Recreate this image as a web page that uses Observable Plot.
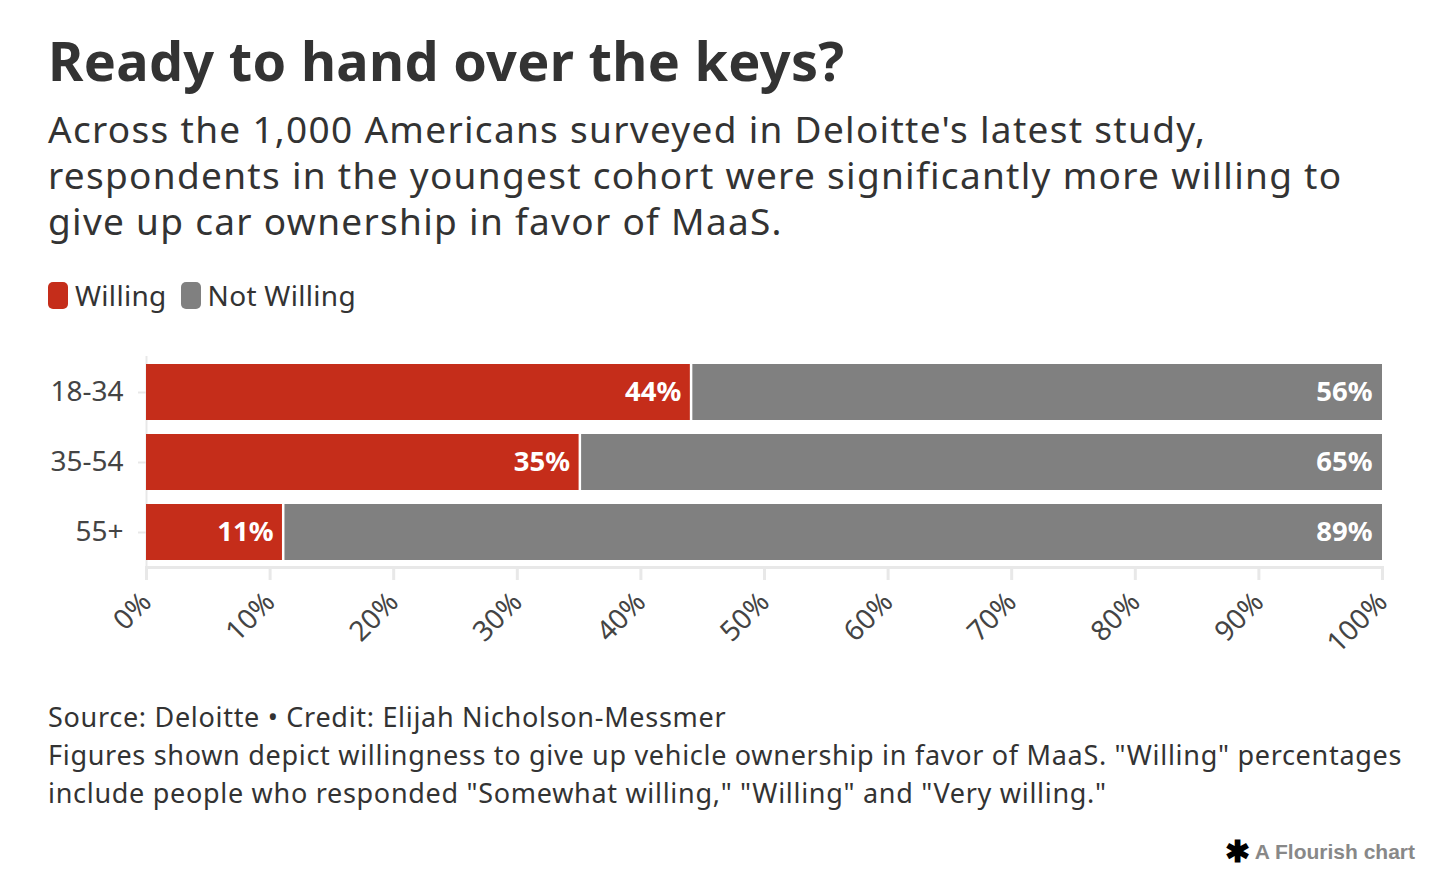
<!DOCTYPE html>
<html><head><meta charset="utf-8">
<script src="https://cdn.jsdelivr.net/npm/d3@7"></script>
<script src="https://cdn.jsdelivr.net/npm/@observablehq/plot@0.6"></script>
<style>
html,body{margin:0;padding:0;background:#fff}
body{width:1446px;height:888px;position:relative;overflow:hidden;font-family:"Noto Sans",sans-serif;color:#333}
#title{position:absolute;left:48px;top:27px;font-size:54px;letter-spacing:0.3px;font-weight:700;line-height:66px;white-space:nowrap;color:#333}
#subtitle{position:absolute;left:48px;top:106px;font-size:37px;letter-spacing:1.3px;line-height:46px;white-space:nowrap;color:#333}
#legend{position:absolute;left:48px;top:276px;display:flex;align-items:center;font-size:28px;letter-spacing:0.3px;color:#333}
.item{display:flex;align-items:center;margin-right:14px}
.sw{width:20px;height:27px;border-radius:5px;margin-right:7px}
#chart{position:absolute;left:0;top:340px}
#footer{position:absolute;left:48px;top:698px;font-size:27px;letter-spacing:0.7px;line-height:38px;white-space:nowrap;color:#333}
#logo{position:absolute;right:31px;top:840px;font-family:"Liberation Sans",Arial,sans-serif;font-weight:700;font-size:21px;color:#888;display:flex;align-items:center}
#logo span.star{color:#000;font-size:30px;margin-right:5px;line-height:20px}
</style></head><body>
<div id="title">Ready to hand over the keys?</div>
<div id="subtitle">Across the 1,000 Americans surveyed in Deloitte's latest study,<br>respondents in the youngest cohort were significantly more willing to<br>give up car ownership in favor of MaaS.</div>
<div id="legend"></div>
<div id="chart"></div>
<div id="footer">Source: Deloitte • Credit: Elijah Nicholson-Messmer<br>Figures shown depict willingness to give up vehicle ownership in favor of MaaS. "Willing" percentages<br>include people who responded "Somewhat willing," "Willing" and "Very willing."</div>
<div id="logo"><span class="star">✱</span>A Flourish chart</div>
<script>
const ageGroups = ["18-34", "35-54", "55+"];
const willing = [44, 35, 11];
const notWilling = [56, 65, 89];
const seriesNames = ["Willing", "Not Willing"];
const seriesColors = ["#c52d1a", "#808080"];
const xTicks = [0, 10, 20, 30, 40, 50, 60, 70, 80, 90, 100];

const legend = document.getElementById("legend");
seriesNames.forEach((n, i) => {
  const it = document.createElement("div");
  it.className = "item";
  it.innerHTML = `<div class="sw" style="background:${seriesColors[i]}"></div><span>${n}</span>`;
  legend.appendChild(it);
});

const rows = ageGroups.map((g, i) => ({group: g, willing: willing[i], notWilling: notWilling[i], total: willing[i] + notWilling[i]}));

const chart = Plot.plot({
  width: 1446,
  height: 340,
  marginLeft: 146,
  marginRight: 64,
  marginTop: 16,
  marginBottom: 113,
  style: {fontFamily: "'Noto Sans', sans-serif", background: "transparent", overflow: "visible"},
  x: {domain: [0, 100], label: null},
  y: {domain: ageGroups, paddingInner: 0.2, paddingOuter: 0.1, label: null},
  marks: [
    Plot.ruleX([0], {stroke: "#e8e8e8", strokeWidth: 2}),
    Plot.frame({anchor: "bottom", stroke: "#e8e8e8", strokeWidth: 3}),
    Plot.axisX({ticks: xTicks, tickSize: 13, tickFormat: () => "", color: "#e8e8e8", strokeWidth: 3}),
    Plot.axisX({ticks: xTicks, tickSize: 0, tickPadding: 30, tickRotate: -45, tickFormat: d => d + "%", fontSize: 28, color: "#444"}),
    Plot.axisY({tickSize: 8, tickFormat: () => "", color: "#e8e8e8", strokeWidth: 2}),
    Plot.axisY({tickSize: 0, tickPadding: 23, fontSize: 28, color: "#444"}),
    Plot.barX(rows, {y: "group", x1: 0, x2: "willing", fill: seriesColors[0]}),
    Plot.barX(rows, {y: "group", x1: "willing", x2: "total", fill: seriesColors[1], insetLeft: 2.5}),
    Plot.text(rows, {y: "group", x: "willing", text: d => d.willing + "%", textAnchor: "end", dx: -9, fill: "white", fontWeight: "bold", fontSize: 27.5}),
    Plot.text(rows, {y: "group", x: "total", text: d => d.notWilling + "%", textAnchor: "end", dx: -10, fill: "white", fontWeight: "bold", fontSize: 27.5})
  ]
});
document.getElementById("chart").appendChild(chart);
</script>
</body></html>
